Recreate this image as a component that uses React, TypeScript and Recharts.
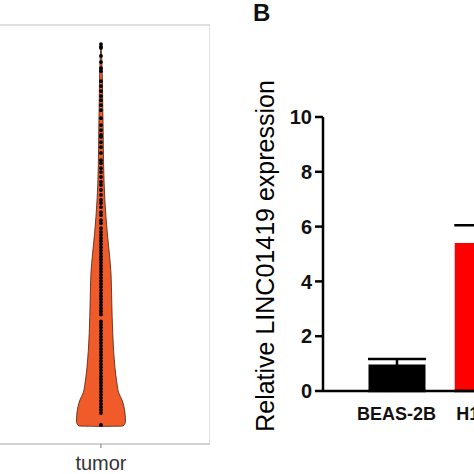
import {
  ComposedChart,
  Area,
  Scatter,
  XAxis,
  YAxis,
  ReferenceArea,
  BarChart,
  Bar,
  Cell,
  ErrorBar,
} from 'recharts';

// left panel: violin of expression in tumor samples (only the tumor group is visible)
const violinExpr = [-0.01, 0, 0.12, 0.34, 0.68, 0.86, 1.13, 1.54, 2.43, 3.3, 4.0, 4.53, 5.05, 5.92, 6.78, 7.75, 8.53, 9.32, 10.0];
const violinHalfWidth = [0, 0.9, 1.0, 0.98, 0.86, 0.73, 0.65, 0.57, 0.48, 0.44, 0.41, 0.34, 0.26, 0.16, 0.11, 0.09, 0.07, 0.05, 0];

const tumorDots = [
  0.03, 0.34, 0.42, 0.5, 0.58, 0.66, 0.74, 0.82, 0.9, 0.98, 1.06, 1.14, 1.22, 1.3, 1.38, 1.46,
  1.54, 1.62, 1.7, 1.78, 1.86, 1.94, 2.02, 2.1, 2.18, 2.26, 2.34, 2.42, 2.5, 2.58, 2.66, 2.74,
  2.92, 3.0, 3.08, 3.16, 3.24, 3.32, 3.4, 3.48, 3.56, 3.64, 3.72, 3.8, 3.88, 3.96, 4.04, 4.12,
  4.2, 4.28, 4.36, 4.44, 4.52, 4.6, 4.68, 4.76, 4.84, 4.92, 5.0, 5.08, 5.18, 5.31, 5.39, 5.52,
  5.6, 5.73, 5.84, 5.92, 6.05, 6.18, 6.31, 6.39, 6.52, 6.65, 6.75, 6.88, 6.96, 7.15, 7.3, 7.43,
  7.57, 7.62, 7.75, 7.88, 8.06, 8.27, 8.4, 8.53, 8.64, 8.77, 8.9, 9.03, 9.29, 9.37, 9.53, 9.69,
  9.9, 9.93, 10.0,
];

// right panel: qPCR bars
const cellLines = ['BEAS-2B', 'H1299'];
const relExpression = [0.97, 5.4];
const expressionSd = [0.2, 0.65];
const barColors = ['#000000', '#ff0000'];
const yTicks = [0, 2, 4, 6, 8, 10];

const violinRows = violinExpr.map((expr, i) => ({ expr, w: violinHalfWidth[i] }));
const dotRows = tumorDots.map((expr) => ({ pos: 0, expr }));
// only the upper whisker is shown, so the lower one is sent down to the baseline
const barRows = cellLines.map((line, i) => ({
  line,
  value: relExpression[i],
  err: [relExpression[i], expressionSd[i]],
}));

const font = '"Liberation Sans", Arial, sans-serif';

function YLabel({ viewBox }: any) {
  const x = viewBox.x + 34;
  const y = viewBox.y + viewBox.height / 2 + 2;
  return (
    <text
      x={x}
      y={y}
      transform={`rotate(-90 ${x} ${y})`}
      textAnchor="middle"
      fontSize={25}
      fill="#000"
      fontFamily={font}
    >
      Relative LINC01419 expression
    </text>
  );
}

export default function App() {
  return (
    <div
      style={{
        position: 'absolute',
        left: 0,
        top: 0,
        width: 474,
        height: 474,
        overflow: 'hidden',
        background: '#fff',
        fontFamily: font,
      }}
    >
      <div style={{ position: 'absolute', left: -150, top: 0 }}>
        <ComposedChart
          width={360}
          height={474}
          layout="vertical"
          data={violinRows}
          margin={{ top: 25, right: 0, bottom: 0, left: 40 }}
        >
          <XAxis
            type="number"
            dataKey="pos"
            domain={[-8.61, 4.45]}
            allowDataOverflow
            ticks={[0]}
            tickFormatter={() => 'tumor'}
            height={30}
            axisLine={{ stroke: '#c2c2c2' }}
            tickLine={{ stroke: '#777' }}
            tickSize={4}
            tickMargin={8}
            tick={{ fontSize: 20, fill: '#333', fontFamily: font }}
          />
          <YAxis type="number" dataKey="expr" domain={[-0.47, 10.5]} allowDataOverflow reversed hide />
          <ReferenceArea
            x1={-8.61}
            x2={4.45}
            y1={-0.47}
            y2={10.5}
            fill="none"
            stroke="#c2c2c2"
            strokeWidth={1}
          />
          <Area
            type="monotone"
            dataKey={(r: any) => [-r.w, r.w]}
            fill="#f15a29"
            fillOpacity={1}
            stroke="#4a1e0e"
            strokeWidth={0.8}
            dot={false}
            activeDot={false}
            isAnimationActive={false}
          />
          <Scatter
            data={dotRows}
            isAnimationActive={false}
            shape={(p: any) => <circle cx={p.cx} cy={p.cy} r={1.9} fill="#000" />}
          />
        </ComposedChart>
      </div>

      <span
        style={{
          position: 'absolute',
          left: 253,
          top: -1,
          fontSize: 24,
          fontWeight: 'bold',
          lineHeight: '28px',
          color: '#111',
        }}
      >
        B
      </span>

      <div style={{ position: 'absolute', left: 240, top: 0 }}>
        <BarChart
          width={300}
          height={474}
          data={barRows}
          barSize={57}
          margin={{ top: 117, right: 14, bottom: 0, left: 0 }}
        >
          <XAxis
            dataKey="line"
            type="category"
            padding={{ left: 30.5, right: 0 }}
            height={83}
            axisLine={{ stroke: '#000', strokeWidth: 2.5 }}
            tickLine={false}
            tickSize={0}
            tickMargin={16}
            tick={{ fontSize: 18, fontWeight: 'bold', fill: '#111', fontFamily: font }}
          />
          <YAxis
            type="number"
            domain={[0, 10]}
            ticks={yTicks}
            width={83}
            axisLine={{ stroke: '#000', strokeWidth: 2.5 }}
            tickLine={{ stroke: '#000', strokeWidth: 2.5 }}
            tickSize={8}
            tickMargin={3}
            tick={{ fontSize: 20, fontWeight: 'bold', fill: '#111', fontFamily: font }}
            label={<YLabel />}
          />
          <Bar dataKey="value" isAnimationActive={false}>
            {barRows.map((r, i) => (
              <Cell key={r.line} fill={barColors[i]} />
            ))}
            <ErrorBar dataKey="err" direction="y" width={29} stroke="#000" strokeWidth={2.5} />
          </Bar>
        </BarChart>
      </div>
    </div>
  );
}
